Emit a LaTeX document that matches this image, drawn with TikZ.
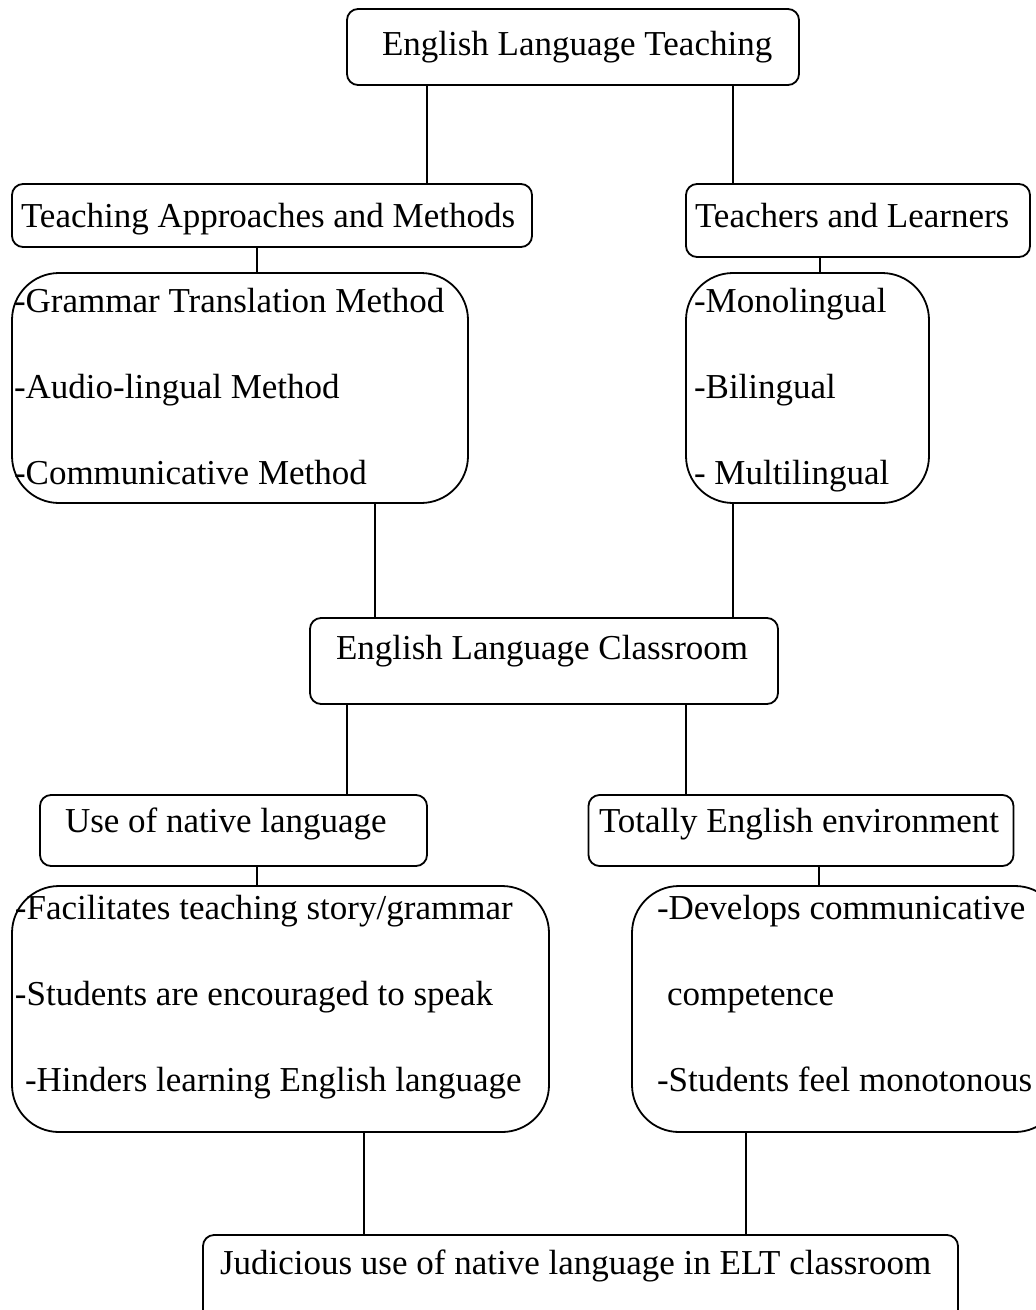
\documentclass[tikz,border=0pt]{standalone}
\usepackage{fontspec}
\setmainfont{Liberation Serif}
\begin{document}
\begin{tikzpicture}[x=1pt,y=-1pt,
  box/.style={draw, line width=1.8pt, rounded corners=11pt, inner sep=0pt, outer sep=0pt},
  listbox/.style={draw, line width=1.8pt, rounded corners=47pt, inner sep=0pt, outer sep=0pt},
  txt/.style={anchor=base west, inner sep=0pt, outer sep=0pt, font=\fontsize{35}{40}\selectfont},
  link/.style={line width=1.8pt}]
\useasboundingbox (0,0) rectangle (1036,1310);
\clip (0,0) rectangle (1036,1310);

% boxes
\node[box, minimum width=452pt, minimum height=76pt] (elt) at (573,47) {};
\node[box, minimum width=520pt, minimum height=63pt] (tam) at (272,215.5) {};
\node[box, minimum width=344pt, minimum height=73pt] (tl) at (858,220.5) {};
\node[listbox, minimum width=456pt, minimum height=230pt] (lst1) at (240,388) {};
\node[listbox, minimum width=243pt, minimum height=230pt] (lst2) at (807.5,388) {};
\node[box, minimum width=468pt, minimum height=86pt] (elc) at (544,661) {};
\node[box, minimum width=387pt, minimum height=71pt] (nat) at (233.5,830.5) {};
\node[box, minimum width=425pt, minimum height=71pt] (tee) at (801,830.5) {};
\node[listbox, minimum width=537pt, minimum height=246pt] (lst3) at (280.5,1009) {};
\node[listbox, minimum width=430pt, minimum height=246pt] (lst4) at (847,1009) {};
\node[box, minimum width=755pt, minimum height=105pt] (jud) at (580.5,1287.5) {};

% texts
\node[txt] (telt) at (382,55) {English Language Teaching};
\node[txt] (ttam) at (21,227) {Teaching Approaches and Methods};
\node[txt] (ttl) at (695,227) {Teachers and Learners};
\node[txt] (l1a) at (14,312) {-Grammar Translation Method};
\node[txt] (l1b) at (14,398) {-Audio-lingual Method};
\node[txt] (l1c) at (14,484) {-Communicative Method};
\node[txt] (l2a) at (694,312) {-Monolingual};
\node[txt] (l2b) at (694,398) {-Bilingual};
\node[txt] (l2c) at (694,484) {- Multilingual};
\node[txt] (telc) at (336,659) {English Language Classroom};
\node[txt] (tnat) at (65,832) {Use of native language};
\node[txt] (ttee) at (599,832) {Totally English environment};
\node[txt] (l3a) at (15,919) {-Facilitates teaching story/grammar};
\node[txt] (l3b) at (15,1005) {-Students are encouraged to speak};
\node[txt] (l3c) at (25,1091) {-Hinders learning English language};
\node[txt] (l4a) at (657,919) {-Develops communicative};
\node[txt] (l4b) at (667,1005) {competence};
\node[txt] (l4c) at (657,1091) {-Students feel monotonous};
\node[txt] (tjud) at (220,1274) {Judicious use of native language in ELT classroom};

% connector columns
\coordinate (xa) at (427,0);
\coordinate (xb) at (733,0);
\coordinate (xc) at (257,0);
\coordinate (xd) at (820,0);
\coordinate (xe) at (375,0);
\coordinate (xf) at (733,0);
\coordinate (xg) at (347,0);
\coordinate (xh) at (686,0);
\coordinate (xi) at (257,0);
\coordinate (xj) at (819,0);
\coordinate (xk) at (364,0);
\coordinate (xl) at (746,0);

\draw[link] (elt.south -| xa) -- (tam.north -| xa);
\draw[link] (elt.south -| xb) -- (tl.north -| xb);
\draw[link] (tam.south -| xc) -- (lst1.north -| xc);
\draw[link] (tl.south -| xd) -- (lst2.north -| xd);
\draw[link] (lst1.south -| xe) -- (elc.north -| xe);
\draw[link] (lst2.south -| xf) -- (elc.north -| xf);
\draw[link] (elc.south -| xg) -- (nat.north -| xg);
\draw[link] (elc.south -| xh) -- (tee.north -| xh);
\draw[link] (nat.south -| xi) -- (lst3.north -| xi);
\draw[link] (tee.south -| xj) -- (lst4.north -| xj);
\draw[link] (lst3.south -| xk) -- (jud.north -| xk);
\draw[link] (lst4.south -| xl) -- (jud.north -| xl);
\end{tikzpicture}
\end{document}
